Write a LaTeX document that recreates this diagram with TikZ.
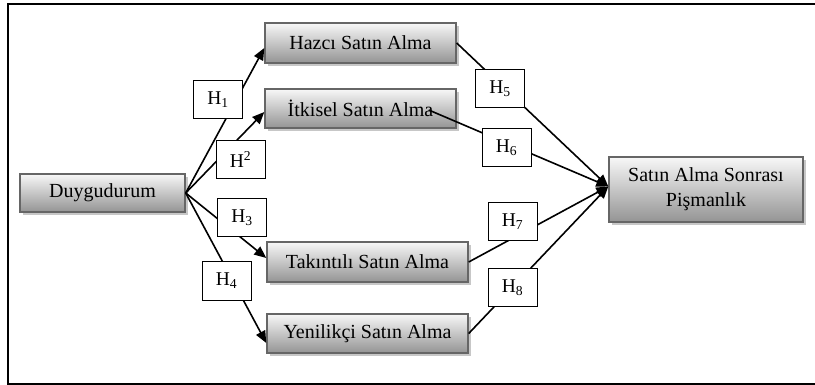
\documentclass[tikz,border=0pt]{standalone}
\usepackage{fontspec}
\setmainfont{Liberation Serif}
\usetikzlibrary{shadows,arrows.meta,calc}
\begin{document}
\begin{tikzpicture}[x=1pt,y=-1pt,
  mainbox/.style={draw=black!60,line width=1.4pt,top color=black!3,bottom color=black!42,
    drop shadow={shadow xshift=3pt,shadow yshift=-3pt,fill=black!22,opacity=1},
    inner sep=0pt,font=\fontsize{20}{25}\selectfont,align=center},
  hbox/.style={draw=black,line width=1pt,fill=white,inner sep=0pt,minimum width=49pt,minimum height=38pt,
    font=\fontsize{19.5}{22}\selectfont},
  conn/.style={line width=1.6pt,-{Triangle[length=12pt,width=10pt]}}]
\useasboundingbox (0,0) rectangle (815,385);
\draw[line width=1.3pt] (818,4) -- (8,4) -- (8,384) -- (818,384);
% main boxes
\node[mainbox,minimum width=165pt,minimum height=38pt] (duy) at (102.5,193) {Duygudurum};
\node[mainbox,minimum width=191pt,minimum height=40pt] (hazci) at (360.5,43) {Hazcı Satın Alma};
\node[mainbox,minimum width=191pt,minimum height=39pt] (itk) at (360.5,108.5) {İtkisel Satın Alma};
\node[mainbox,minimum width=201pt,minimum height=40pt] (tak) at (367.5,262) {Takıntılı Satın Alma};
\node[mainbox,minimum width=201pt,minimum height=39pt] (yen) at (367.5,333.5) {Yenilikçi Satın Alma};
\node[mainbox,minimum width=194pt,minimum height=65pt] (pis) at (706,189.5) {Satın Alma Sonrası\\Pişmanlık};
% anchor coordinates
\coordinate (hazciIn) at ($(hazci.west)+(0,5)$);
\coordinate (itkIn) at ($(itk.west)+(0,3.5)$);
\coordinate (takIn) at ($(tak.west)+(0,-4)$);
\coordinate (yenIn) at ($(yen.west)+(0,9.5)$);
\coordinate (itkOut) at ($(itk.east)+(-28,1.5)$);
\coordinate (pisIn) at ($(pis.west)+(0,-3)$);
% connectors
\draw[conn] (duy.east) -- (hazciIn);
\draw[conn] (duy.east) -- (itkIn);
\draw[conn] (duy.east) -- (takIn);
\draw[conn] (duy.east) -- (yenIn);
\draw[conn] (hazci.east) -- (pisIn);
\draw[conn] (itkOut) -- (pisIn);
\draw[conn] (tak.east) -- (pisIn);
\draw[conn] (yen.east) -- (pisIn);
% hypothesis boxes
\node[hbox] (h1) at (218,99.5) {H\textsubscript{1}};
\node[hbox] (h2) at (240.5,159.5) {H\textsuperscript{2}};
\node[hbox] (h3) at (242,217.5) {H\textsubscript{3}};
\node[hbox] (h4) at (226.5,281) {H\textsubscript{4}};
\node[hbox] (h5) at (500,89) {H\textsubscript{5}};
\node[hbox] (h6) at (506.5,148) {H\textsubscript{6}};
\node[hbox] (h7) at (512.5,222) {H\textsubscript{7}};
\node[hbox] (h8) at (512.5,287.5) {H\textsubscript{8}};
\end{tikzpicture}
\end{document}
